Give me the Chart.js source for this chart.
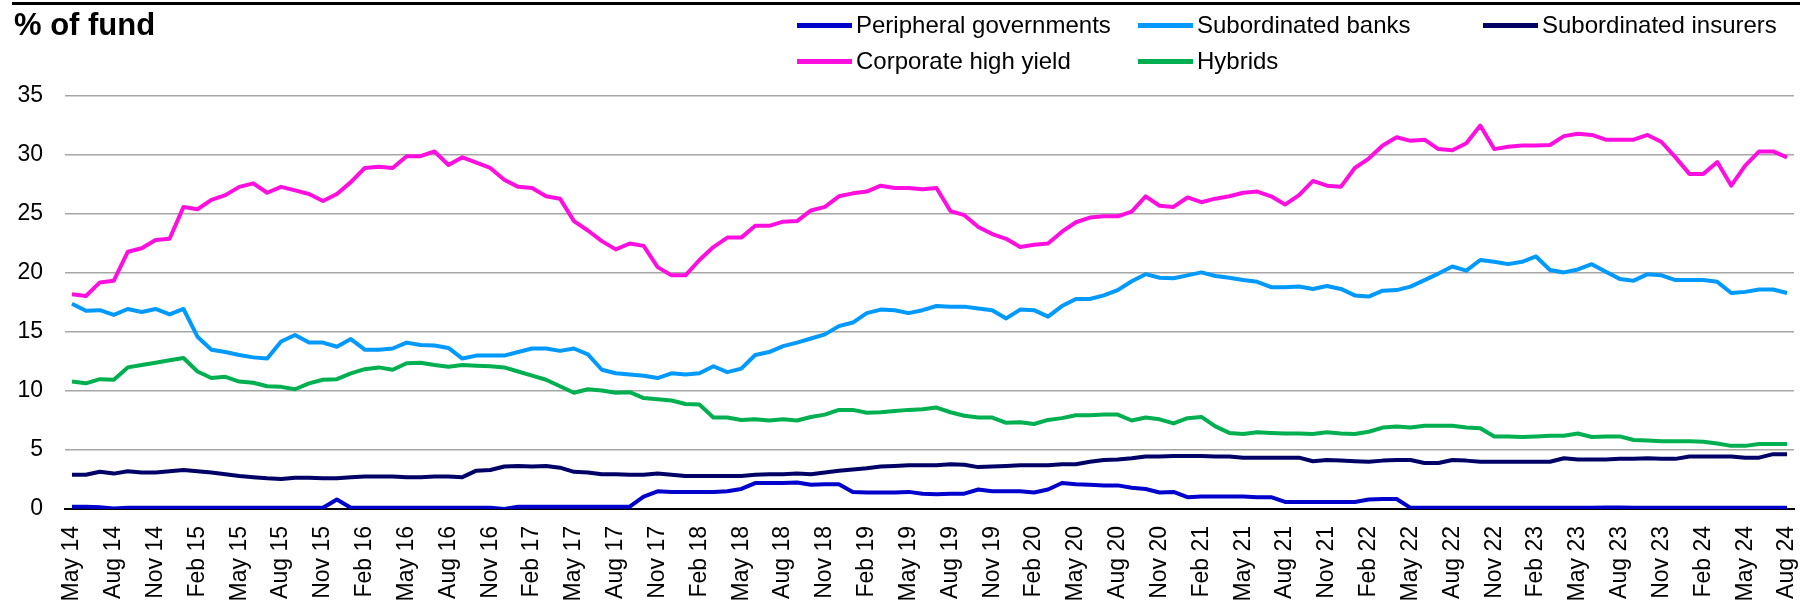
<!DOCTYPE html>
<html>
<head>
<meta charset="utf-8">
<script src="https://cdn.jsdelivr.net/npm/chart.js@4/dist/chart.umd.min.js"></script>
<style>
html,body{margin:0;padding:0;background:#fff;}
#wrap{position:relative;width:1800px;height:602px;overflow:hidden;font-family:"Liberation Sans",Arial,sans-serif;color:#000;}
#chart{position:absolute;left:0;top:0;}
#topline{position:absolute;left:12px;top:2px;width:1788px;height:2.5px;background:#000;z-index:2;}
#title{position:absolute;left:14px;top:9px;font-size:31px;line-height:31px;font-weight:bold;z-index:2;white-space:nowrap;}
.leg{position:absolute;font-size:24px;line-height:24px;white-space:nowrap;display:flex;align-items:center;z-index:2;}
.leg .sw{display:inline-block;width:55px;height:5px;margin-right:4px;}
</style>
</head>
<body>
<div id="wrap">
  <canvas id="chart" width="1800" height="602"></canvas>
  <div id="topline"></div>
  <div id="title">% of fund</div>
</div>
<script>
// ---- Data ----
const months = [
 "May 14","Jun 14","Jul 14","Aug 14","Sep 14","Oct 14","Nov 14","Dec 14",
 "Jan 15","Feb 15","Mar 15","Apr 15","May 15","Jun 15","Jul 15","Aug 15","Sep 15","Oct 15","Nov 15","Dec 15",
 "Jan 16","Feb 16","Mar 16","Apr 16","May 16","Jun 16","Jul 16","Aug 16","Sep 16","Oct 16","Nov 16","Dec 16",
 "Jan 17","Feb 17","Mar 17","Apr 17","May 17","Jun 17","Jul 17","Aug 17","Sep 17","Oct 17","Nov 17","Dec 17",
 "Jan 18","Feb 18","Mar 18","Apr 18","May 18","Jun 18","Jul 18","Aug 18","Sep 18","Oct 18","Nov 18","Dec 18",
 "Jan 19","Feb 19","Mar 19","Apr 19","May 19","Jun 19","Jul 19","Aug 19","Sep 19","Oct 19","Nov 19","Dec 19",
 "Jan 20","Feb 20","Mar 20","Apr 20","May 20","Jun 20","Jul 20","Aug 20","Sep 20","Oct 20","Nov 20","Dec 20",
 "Jan 21","Feb 21","Mar 21","Apr 21","May 21","Jun 21","Jul 21","Aug 21","Sep 21","Oct 21","Nov 21","Dec 21",
 "Jan 22","Feb 22","Mar 22","Apr 22","May 22","Jun 22","Jul 22","Aug 22","Sep 22","Oct 22","Nov 22","Dec 22",
 "Jan 23","Feb 23","Mar 23","Apr 23","May 23","Jun 23","Jul 23","Aug 23","Sep 23","Oct 23","Nov 23","Dec 23",
 "Jan 24","Feb 24","Mar 24","Apr 24","May 24","Jun 24","Jul 24","Aug 24"
];

const tickLabels = [
 "May 14","Aug 14","Nov 14","Feb 15","May 15","Aug 15","Nov 15","Feb 16","May 16","Aug 16","Nov 16",
 "Feb 17","May 17","Aug 17","Nov 17","Feb 18","May 18","Aug 18","Nov 18","Feb 19","May 19","Aug 19","Nov 19",
 "Feb 20","May 20","Aug 20","Nov 20","Feb 21","May 21","Aug 21","Nov 21","Feb 22","May 22","Aug 22","Nov 22",
 "Feb 23","May 23","Aug 23","Nov 23","Feb 24","May 24","Aug 24"
];

const yTicks = [0, 5, 10, 15, 20, 25, 30, 35];

const seriesNames = ["Peripheral governments","Subordinated banks","Subordinated insurers","Corporate high yield","Hybrids"];

const peripheralGovernments = [
 0.2,0.2,0.15,0.05,0.1,0.1,0.1,0.1,0.1,0.1,
 0.1,0.1,0.1,0.1,0.1,0.1,0.1,0.1,0.1,0.8,
 0.1,0.1,0.1,0.1,0.1,0.1,0.1,0.1,0.1,0.1,
 0.1,0.0,0.2,0.2,0.2,0.2,0.2,0.2,0.2,0.2,
 0.2,1.05,1.5,1.45,1.45,1.45,1.45,1.5,1.7,2.2,
 2.2,2.2,2.25,2.05,2.1,2.1,1.45,1.4,1.4,1.4,
 1.45,1.3,1.25,1.3,1.3,1.65,1.5,1.5,1.5,1.4,
 1.65,2.2,2.1,2.05,2.0,2.0,1.8,1.7,1.4,1.45,
 1.0,1.05,1.05,1.05,1.05,1.0,1.0,0.6,0.6,0.6,
 0.6,0.6,0.6,0.8,0.85,0.85,0.1,0.1,0.1,0.1,
 0.1,0.1,0.1,0.1,0.1,0.1,0.1,0.1,0.1,0.1,
 0.12,0.12,0.1,0.1,0.1,0.1,0.1,0.1,0.1,0.1,
 0.1,0.1,0.1,0.1
];

const subordinatedBanks = [
 17.4,16.8,16.85,16.45,16.95,16.7,16.95,16.5,16.95,14.6,
 13.5,13.3,13.05,12.85,12.75,14.2,14.75,14.1,14.1,13.75,
 14.4,13.5,13.5,13.6,14.1,13.9,13.85,13.65,12.75,13.0,
 13.0,13.0,13.3,13.6,13.6,13.4,13.6,13.1,11.8,11.5,
 11.4,11.3,11.1,11.5,11.4,11.5,12.1,11.6,11.9,13.05,
 13.3,13.8,14.1,14.45,14.8,15.5,15.8,16.6,16.9,16.85,
 16.6,16.85,17.2,17.15,17.15,17.0,16.85,16.15,16.9,16.85,
 16.3,17.2,17.8,17.8,18.1,18.55,19.3,19.9,19.6,19.55,
 19.8,20.05,19.75,19.6,19.4,19.25,18.8,18.8,18.85,18.65,
 18.9,18.65,18.1,18.0,18.5,18.55,18.85,19.4,19.95,20.55,
 20.2,21.1,20.95,20.75,20.95,21.4,20.25,20.05,20.3,20.75,
 20.1,19.5,19.35,19.9,19.8,19.4,19.4,19.4,19.25,18.3,
 18.4,18.6,18.6,18.3
];

const subordinatedInsurers = [
 2.9,2.9,3.15,3.0,3.2,3.1,3.1,3.2,3.3,3.2,
 3.1,2.95,2.8,2.7,2.6,2.55,2.65,2.65,2.6,2.6,
 2.7,2.75,2.75,2.75,2.7,2.7,2.75,2.75,2.7,3.25,
 3.3,3.6,3.65,3.6,3.65,3.5,3.15,3.1,2.95,2.95,
 2.9,2.9,3.0,2.9,2.8,2.8,2.8,2.8,2.8,2.9,
 2.95,2.95,3.0,2.95,3.1,3.25,3.35,3.45,3.6,3.65,
 3.7,3.7,3.7,3.8,3.75,3.55,3.6,3.65,3.7,3.7,
 3.7,3.8,3.8,4.0,4.15,4.2,4.3,4.45,4.45,4.5,
 4.5,4.5,4.45,4.45,4.35,4.35,4.35,4.35,4.35,4.05,
 4.15,4.1,4.05,4.0,4.1,4.15,4.15,3.9,3.9,4.15,
 4.1,4.0,4.0,4.0,4.0,4.0,4.0,4.3,4.2,4.2,
 4.2,4.25,4.25,4.3,4.25,4.25,4.45,4.45,4.45,4.45,
 4.35,4.35,4.65,4.65
];

const corporateHighYield = [
 18.2,18.05,19.2,19.35,21.8,22.1,22.8,22.9,25.6,25.4,
 26.2,26.6,27.3,27.6,26.8,27.3,27.0,26.7,26.1,26.7,
 27.7,28.9,29.0,28.9,29.9,29.9,30.3,29.15,29.8,29.35,
 28.9,27.9,27.3,27.2,26.5,26.3,24.4,23.6,22.7,22.0,
 22.5,22.3,20.5,19.8,19.8,21.1,22.2,23.0,23.0,24.0,
 24.0,24.35,24.4,25.3,25.6,26.5,26.75,26.9,27.4,27.2,
 27.2,27.1,27.2,25.25,24.9,23.9,23.3,22.9,22.2,22.4,
 22.5,23.5,24.3,24.7,24.8,24.8,25.2,26.5,25.7,25.6,
 26.4,26.0,26.3,26.5,26.8,26.9,26.5,25.8,26.6,27.8,
 27.4,27.3,28.9,29.7,30.8,31.5,31.2,31.3,30.5,30.4,
 31.0,32.5,30.5,30.7,30.8,30.8,30.85,31.6,31.8,31.7,
 31.3,31.3,31.3,31.7,31.1,29.8,28.4,28.4,29.4,27.4,
 29.1,30.3,30.3,29.8
];

const hybrids = [
 10.8,10.65,11.0,10.95,12.0,12.2,12.4,12.6,12.8,11.65,
 11.1,11.2,10.8,10.7,10.4,10.35,10.15,10.65,10.95,11.0,
 11.5,11.85,12.0,11.8,12.35,12.4,12.2,12.05,12.2,12.15,
 12.1,12.0,11.65,11.3,10.95,10.4,9.85,10.15,10.05,9.85,
 9.9,9.4,9.3,9.2,8.9,8.85,7.75,7.75,7.55,7.6,
 7.5,7.6,7.5,7.8,8.0,8.4,8.4,8.15,8.2,8.3,
 8.4,8.45,8.6,8.2,7.9,7.75,7.75,7.3,7.35,7.2,
 7.55,7.7,7.95,7.95,8.0,8.0,7.5,7.75,7.6,7.25,
 7.7,7.8,7.0,6.45,6.35,6.5,6.45,6.4,6.4,6.35,
 6.5,6.4,6.35,6.55,6.9,7.0,6.9,7.05,7.05,7.05,
 6.9,6.85,6.15,6.15,6.1,6.15,6.2,6.2,6.4,6.1,
 6.15,6.15,5.85,5.8,5.75,5.75,5.75,5.7,5.55,5.35,
 5.35,5.5,5.5,5.5
];

// ---- Styles (kept apart from data) ----
const seriesData = [peripheralGovernments, subordinatedBanks, subordinatedInsurers, corporateHighYield, hybrids];
const seriesColors = ["#0000CC", "#0099FF", "#000066", "#FF0FDF", "#00B050"];
const legendPos = [[797,13],[1138,13],[1483,13],[797,49],[1138,49]];
const FONT = "'Liberation Sans', Arial, sans-serif";

// HTML legend
const wrap = document.getElementById('wrap');
seriesNames.forEach((name, i) => {
  const d = document.createElement('div');
  d.className = 'leg';
  d.style.left = legendPos[i][0] + 'px';
  d.style.top = legendPos[i][1] + 'px';
  const sw = document.createElement('span');
  sw.className = 'sw';
  sw.style.background = seriesColors[i];
  d.appendChild(sw);
  d.appendChild(document.createTextNode(name));
  wrap.appendChild(d);
});

const ctx = document.getElementById('chart').getContext('2d');
new Chart(ctx, {
  type: 'line',
  data: {
    labels: months,
    datasets: seriesNames.map((name, i) => ({
      label: name,
      data: seriesData[i],
      borderColor: seriesColors[i],
      backgroundColor: seriesColors[i],
      borderWidth: 4,
      pointRadius: 0,
      tension: 0,
      fill: false,
      borderJoinStyle: 'round',
      borderCapStyle: 'butt'
    }))
  },
  options: {
    responsive: false,
    animation: false,
    devicePixelRatio: 1,
    layout: { padding: { top: 96, right: 6, bottom: 0, left: 0 } },
    plugins: { legend: { display: false }, tooltip: { enabled: false }, title: { display: false } },
    scales: {
      x: {
        type: 'category',
        offset: true,
        grid: { display: false, drawTicks: false },
        border: { display: true, color: '#000', width: 2 },
        ticks: {
          autoSkip: false,
          maxRotation: 90,
          minRotation: 90,
          padding: 17,
          color: '#000',
          font: { family: FONT, size: 23 },
          callback: function (v, i) {
            const l = months[i];
            return tickLabels.includes(l) ? l : null;
          }
        },
        afterFit: function (s) { s.height = 93; s.paddingLeft = 0; s.paddingRight = 0; }
      },
      y: {
        min: yTicks[0],
        max: yTicks[yTicks.length - 1],
        afterBuildTicks: function (s) { s.ticks = yTicks.map(v => ({ value: v })); },
        grid: {
          drawTicks: false,
          color: c => (c.tick && c.tick.value === 0) ? '#000' : '#a6a6a6',
          lineWidth: c => (c.tick && c.tick.value === 0) ? 2 : 1.5
        },
        border: { display: false },
        ticks: {
          padding: 22,
          color: '#000',
          font: { family: FONT, size: 23 }
        },
        afterFit: function (s) { s.width = 65; }
      }
    }
  }
});
</script>
</body>
</html>
